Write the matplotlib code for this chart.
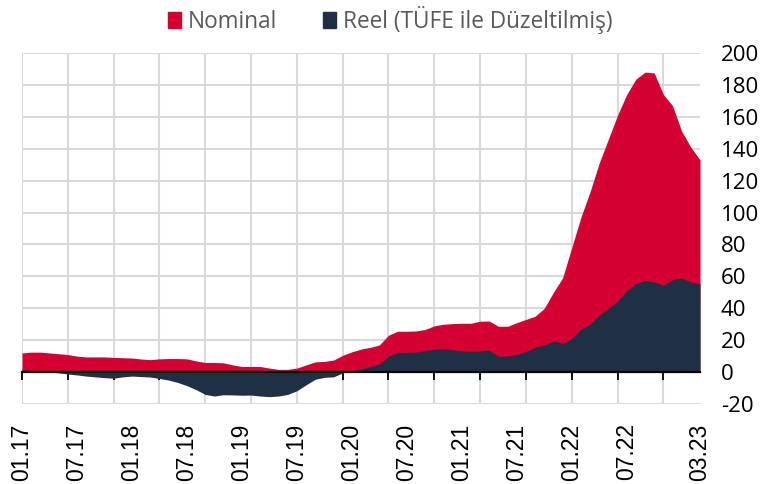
import matplotlib
matplotlib.use('Agg')
import matplotlib.pyplot as plt
from matplotlib.patches import Patch

plt.rcParams['font.family'] = ['Open Sans', 'DejaVu Sans']
plt.rcParams['axes.unicode_minus'] = False

# monthly data, 01.17 - 03.23
months = ['%02d.%02d' % (m, y) for y in range(17, 24) for m in range(1, 13)][:75]

nominal = [12, 12.5, 12.5, 12, 11.5, 11, 10, 9.5, 9.5, 9.5,
           9.2, 9, 8.8, 8.2, 7.8, 8.3, 8.5, 8.5, 8.3, 7,
           6, 6, 5.8, 4.5, 3.5, 3.5, 3.5, 2.5, 1.7, 1.7,
           2.5, 4.5, 6.4, 6.7, 7.5, 10.5, 12.7, 14.4, 15.5, 17,
           23.1, 25.6, 25.6, 25.8, 26.7, 29, 30, 30.4, 30.6, 30.6,
           31.9, 32, 28.7, 28.7, 31, 33, 35, 40, 50, 59,
           78, 97, 113, 131, 146, 161, 174, 183.6, 188, 187.5,
           174, 167, 151, 141, 133]

reel = [1.7, 1, 0.5, 0, -0.5, -1.2, -1.8, -2.5, -3, -3.5,
        -3.8, -3, -2.5, -2.8, -3.1, -4, -5, -6.5, -8.5, -11,
        -14, -15, -14.2, -14.3, -14.5, -14.4, -15, -15.4, -15, -14,
        -11.7, -8, -4.5, -3.3, -3, -0.5, 0.8, 2, 3.5, 5,
        10, 12.3, 12.3, 12.5, 13.5, 14.4, 14.6, 14, 13.3, 13,
        13.2, 13.7, 10, 10, 11, 13, 15.5, 17, 19.6, 18,
        21, 26.9, 30, 35.6, 40, 44.5, 51, 55.5, 57.5, 56.5,
        54.4, 58, 59, 56.4, 55.4]

x = list(range(len(months)))
label_pos = list(range(0, 67, 6)) + [len(months) - 1]
label_txt = [months[i] for i in label_pos]

red = '#D40032'
navy = '#1F3045'

fig = plt.figure(figsize=(7.6, 4.84), dpi=100)
ax = fig.add_axes([22 / 760, 1 - 404 / 484, 678 / 760, 351 / 484])

ax.fill_between(x, 0, nominal, color=red, linewidth=0, label='Nominal')
ax.fill_between(x, 0, reel, color=navy, linewidth=0, label='Reel (TÜFE ile Düzeltilmiş)')

ax.set_xlim(0, len(months) - 1)
ax.set_ylim(-20, 200)
ax.set_yticks(range(-20, 201, 20))
ax.set_xticks(range(0, len(months), 5))

# grid behind the areas
ax.set_axisbelow(True)
ax.grid(True, color='#d9d9d9', linewidth=1.5)

for s in ['top', 'left', 'right']:
    ax.spines[s].set_visible(False)
ax.spines['bottom'].set_position(('data', 0))
ax.spines['bottom'].set_color('black')
ax.spines['bottom'].set_linewidth(1.6)
ax.spines['bottom'].set_zorder(3)

ax.tick_params(axis='x', length=6, width=1.3, color='black', labelbottom=False)
ax.yaxis.tick_right()
ax.tick_params(axis='y', length=0, pad=15, labelsize=16, labelcolor='black')

# month labels at the bottom
sec = ax.secondary_xaxis('bottom')
sec.set_xticks(label_pos, labels=label_txt)
sec.tick_params(length=0, pad=14, labelrotation=90, labelsize=16.5)
sec.spines['bottom'].set_visible(False)
for t in sec.get_xticklabels():
    t.set_fontfamily('Liberation Sans')

handles = [Patch(color=red, label='Nominal'),
           Patch(color=navy, label='Reel (TÜFE ile Düzeltilmiş)')]
fig.legend(handles=handles, loc='upper center', bbox_to_anchor=(390 / 760, 1.03),
           ncol=2, frameon=False, fontsize=16.3, labelcolor='#595959',
           handlelength=0.6, handleheight=0.75, handletextpad=0.3, columnspacing=2.0)

fig.savefig('out.png', dpi=100)
